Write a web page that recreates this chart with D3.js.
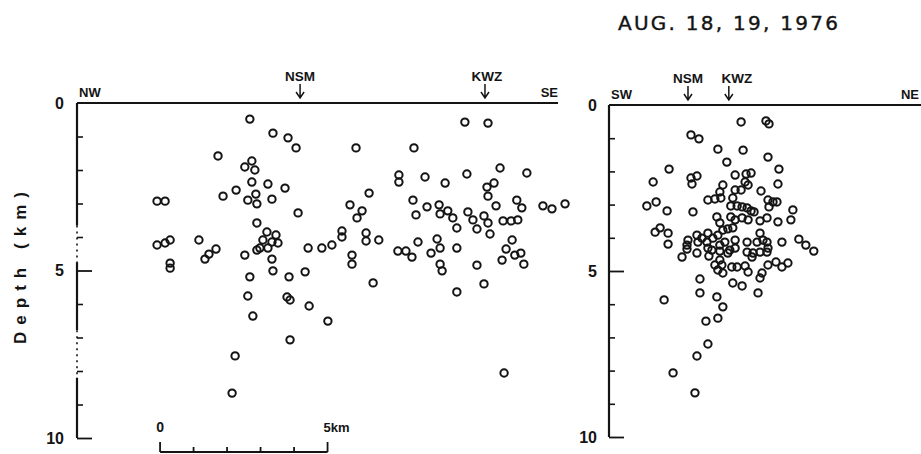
<!DOCTYPE html>
<html><head><meta charset="utf-8">
<script src="https://cdn.jsdelivr.net/npm/d3@7"></script>
<style>html,body{margin:0;padding:0;background:#fff;} svg{display:block;}</style>
</head><body><svg id="c" width="921" height="454"></svg>
<script>
// ---------------- data ----------------
const title = "AUG. 18, 19, 1976";
const yLabel = "Depth (km)";
const depthTickLabels = [0, 5, 10];
const minorDepthTicks = [1, 2, 3, 4, 6, 7, 8, 9];
const leftEnds = ["NW", "SE"];
const rightEnds = ["SW", "NE"];
const leftStations = [{name: "NSM", km: 6.66}, {name: "KWZ", km: 12.18}];
const rightStations = [{name: "NSM", km: 2.38}, {name: "KWZ", km: 3.61}];
const scaleBarStartKm = 2.48;
const scaleBarKm = [0, 1, 2, 3, 4, 5];
const scaleBarLabels = ["0", "5km"];

// [horizontal distance (km), depth (km)]
const leftSection = [
[5.16,0.48],[5.85,0.90],[6.30,1.04],[6.54,1.34],[4.21,1.58],[5.22,1.73],[5.01,1.91],[5.31,2.00],[5.22,2.36],[5.70,2.42],
[6.21,2.54],[4.36,2.78],[4.75,2.60],[5.34,2.72],[5.10,2.90],[5.37,3.01],[5.82,2.87],[2.39,2.93],[2.63,2.93],[6.60,3.28],
[5.37,3.58],[5.67,3.85],[5.94,3.94],[5.55,4.09],[5.82,4.15],[6.00,4.18],[5.46,4.33],[5.70,4.33],[5.37,4.39],[2.39,4.24],
[2.63,4.18],[2.78,4.09],[3.64,4.09],[4.15,4.36],[3.94,4.51],[3.82,4.66],[5.01,4.54],[5.82,4.66],[2.78,4.78],[2.78,4.93],
[6.90,4.33],[7.31,4.33],[7.61,4.24],[5.85,5.01],[6.81,5.04],[5.16,5.19],[6.33,5.19],[5.10,5.76],[6.27,5.79],[6.36,5.88],
[6.93,6.06],[5.25,6.36],[7.49,6.51],[6.36,7.07],[4.72,7.55],[4.63,8.66],[8.21,4.54],[8.21,4.81],[8.84,5.37],[8.33,1.34],
[10.06,1.34],[11.58,0.57],[12.27,0.60],[12.63,1.94],[13.43,2.09],[9.61,2.15],[9.61,2.36],[10.39,2.21],[10.99,2.39],[11.64,2.12],
[12.24,2.51],[12.45,2.39],[12.27,2.78],[12.51,3.07],[13.13,2.90],[13.28,3.13],[13.91,3.07],[14.18,3.16],[14.57,3.01],[8.72,2.69],
[10.03,2.90],[10.45,3.10],[10.81,3.04],[10.84,3.31],[11.07,3.22],[8.15,3.04],[8.51,3.22],[8.36,3.43],[10.12,3.34],[11.22,3.43],
[11.34,3.73],[11.67,3.25],[11.82,3.49],[12.15,3.37],[12.27,3.58],[11.94,3.76],[12.33,3.91],[12.72,3.52],[12.96,3.52],[13.16,3.49],
[7.91,3.82],[7.91,4.00],[8.63,3.88],[8.63,4.12],[9.01,4.09],[10.18,4.15],[10.75,4.06],[10.84,4.33],[11.34,4.33],[9.58,4.42],
[9.82,4.42],[10.00,4.60],[10.57,4.48],[10.84,4.81],[10.90,5.01],[11.94,4.84],[12.69,4.69],[12.99,4.09],[12.81,4.36],[13.07,4.54],
[13.25,4.48],[13.34,4.81],[11.34,5.64],[12.15,5.40],[12.75,8.06]
];

const rightSection = [
[3.98,0.51],[4.73,0.48],[4.82,0.57],[2.47,0.90],[2.71,1.02],[3.28,1.33],[4.04,1.36],[4.79,1.57],[3.55,1.72],[1.81,1.93],
[5.12,1.93],[2.47,2.20],[2.65,2.14],[2.50,2.38],[1.33,2.32],[3.80,2.11],[4.13,2.08],[4.28,2.05],[4.10,2.32],[4.19,2.41],
[3.43,2.41],[5.09,2.38],[1.14,3.04],[1.42,2.92],[1.75,3.19],[2.53,3.22],[2.98,2.86],[3.19,2.83],[3.37,2.80],[3.34,2.62],
[3.80,2.56],[3.98,2.56],[3.73,2.80],[4.58,2.59],[4.79,2.86],[4.94,2.92],[5.06,2.92],[4.82,3.07],[3.67,3.04],[3.86,3.04],
[4.01,3.07],[4.16,3.10],[4.28,3.19],[4.37,3.22],[3.25,3.37],[3.34,3.55],[3.67,3.37],[3.80,3.46],[4.01,3.40],[4.19,3.46],
[4.55,3.49],[4.76,3.40],[5.09,3.52],[5.54,3.16],[5.48,3.46],[1.54,3.70],[1.39,3.83],[1.78,3.86],[1.78,4.19],[2.65,3.92],
[2.38,4.07],[2.35,4.22],[2.35,4.34],[2.20,4.58],[2.98,3.86],[2.80,4.01],[2.95,4.13],[3.13,4.01],[3.28,3.92],[3.43,3.77],
[3.58,3.73],[3.73,3.70],[2.68,4.13],[2.98,4.31],[3.10,4.37],[3.34,4.22],[3.49,4.13],[2.65,4.46],[3.01,4.55],[3.34,4.40],
[3.64,4.37],[3.80,4.31],[3.58,4.46],[3.80,4.07],[4.16,4.13],[4.46,4.13],[4.55,3.86],[4.64,4.07],[4.76,4.13],[4.79,4.31],
[4.76,4.43],[5.21,4.13],[4.16,4.43],[4.31,4.58],[4.34,4.46],[5.72,4.04],[5.93,4.22],[6.17,4.40],[3.34,4.67],[3.40,4.82],
[3.19,4.82],[3.28,4.97],[3.43,5.06],[3.70,4.88],[3.86,4.88],[4.10,4.85],[4.19,5.03],[4.79,4.82],[5.03,4.73],[5.21,4.88],
[5.39,4.76],[4.61,5.06],[4.55,5.21],[2.74,5.24],[3.73,5.36],[4.01,5.45],[2.74,5.66],[3.25,5.78],[4.49,5.66],[1.66,5.87],
[3.43,6.08],[3.28,6.42],[2.92,6.51],[2.98,7.20],[2.65,7.56],[1.93,8.07],[2.59,8.67],[4.55,4.43]
];

// ---------------- drawing ----------------
const svg = d3.select("#c");
const INK = "#141414";
const FONT = "'Liberation Sans', Arial, Helvetica, sans-serif";
const TFONT = "'DejaVu Sans', Verdana, sans-serif";

const L = {x: d3.scaleLinear().domain([0, 14.36]).range([77, 558]),
           y: d3.scaleLinear().domain([0, 10]).range([103, 438])};
const R = {x: d3.scaleLinear().domain([0, 9.4]).range([609, 921]),
           y: d3.scaleLinear().domain([0, 10]).range([105, 437])};

// title
svg.append("text").attr("x", 618).attr("y", 30)
  .attr("font-family", TFONT).attr("font-size", 20).attr("font-weight", "normal")
  .attr("stroke", INK).attr("stroke-width", 0.4)
  .attr("fill", INK).attr("textLength", 220).attr("lengthAdjust", "spacing")
  .text(title);

// y label
svg.append("text").attr("transform", "translate(26,268) rotate(-90)")
  .attr("text-anchor", "middle").attr("font-family", FONT).attr("font-size", 17)
  .attr("font-weight", "bold").attr("fill", INK)
  .attr("textLength", 152).attr("lengthAdjust", "spacing").text(yLabel);

function panel(P, data, ends, stations, leftAxisStyle, labelPad, endRightX) {
  const g = svg.append("g");
  const x0 = P.x.range()[0];
  // top line
  g.append("line").attr("x1", x0).attr("x2", endRightX).attr("y1", P.y(0)).attr("y2", P.y(0))
    .attr("stroke", INK).attr("stroke-width", 2.2);
  // vertical axis (segments)
  leftAxisStyle.forEach(s => {
    g.append("line").attr("x1", x0).attr("x2", x0).attr("y1", P.y(s[0])).attr("y2", P.y(s[1]))
      .attr("stroke", INK).attr("stroke-width", s[2] ? 1.6 : 2.2)
      .attr("stroke-dasharray", s[2] ? "2,4" : null);
  });
  // minor ticks
  g.append("g").attr("transform", `translate(${x0},0)`)
    .call(d3.axisRight(P.y).tickValues(minorDepthTicks).tickSize(6).tickFormat(""))
    .call(a => { a.select(".domain").remove(); a.selectAll("line").attr("stroke", INK).attr("stroke-width", 1.6); });
  // major ticks
  g.append("g").attr("transform", `translate(${x0},0)`)
    .call(d3.axisRight(P.y).tickValues([5, 10]).tickSize(15).tickFormat(""))
    .call(a => { a.select(".domain").remove(); a.selectAll("line").attr("stroke", INK).attr("stroke-width", 1.8); });
  // tick labels
  g.append("g").attr("transform", `translate(${x0},0)`)
    .call(d3.axisLeft(P.y).tickValues(depthTickLabels).tickSize(0).tickPadding(labelPad).tickFormat(d3.format("d")))
    .call(a => { a.select(".domain").remove();
      a.selectAll("text").attr("font-family", FONT).attr("font-size", 16).attr("font-weight", "bold").attr("fill", INK); });
  // direction labels
  g.append("text").attr("x", x0 + 2).attr("y", P.y(0) - 6).attr("font-family", FONT)
    .attr("font-size", 13).attr("font-weight", "bold").attr("fill", INK).text(ends[0]);
  g.append("text").attr("x", ends[2]).attr("y", P.y(0) - 6).attr("text-anchor", "end").attr("font-family", FONT)
    .attr("font-size", 13).attr("font-weight", "bold").attr("fill", INK).text(ends[1]);
  // stations
  stations.forEach(s => {
    const sx = P.x(s.km);
    g.append("text").attr("x", sx + (s.dx || 0)).attr("y", P.y(0) - 22).attr("text-anchor", "middle")
      .attr("font-family", FONT).attr("font-size", 13.5).attr("font-weight", "bold").attr("fill", INK).text(s.name);
    const top = P.y(0) - 19, bot = P.y(0) - 5;
    g.append("path").attr("d", `M${sx},${top}L${sx},${bot}M${sx-4},${bot-6}L${sx},${bot}L${sx+4},${bot-6}`)
      .attr("fill", "none").attr("stroke", INK).attr("stroke-width", 1.5);
  });
  // events
  g.append("g").selectAll("circle").data(data).join("circle")
    .attr("cx", d => P.x(d[0])).attr("cy", d => P.y(d[1])).attr("r", 3.7)
    .attr("fill", "none").attr("stroke", INK).attr("stroke-width", 2);
}

panel(L, leftSection, [leftEnds[0], leftEnds[1], 558],
  leftStations.map((s, i) => Object.assign({}, s, {dx: i === 1 ? 2 : 0})),
  [[0, 3.66, false], [3.66, 4.75, true], [4.75, 6.78, false], [6.78, 8.2, true], [8.2, 10, false]], 13, 558);
panel(R, rightSection, [rightEnds[0], rightEnds[1], 919],
  rightStations.map((s, i) => Object.assign({}, s, {dx: i === 1 ? 8 : 0})),
  [[0, 10, false]], 12, 921);

// scale bar
const sb = svg.append("g");
const sbx = km => L.x(scaleBarStartKm + km);
const sby = 452;
sb.append("line").attr("x1", sbx(0)).attr("x2", sbx(5)).attr("y1", sby).attr("y2", sby)
  .attr("stroke", INK).attr("stroke-width", 2);
sb.selectAll("line.t").data(scaleBarKm).join("line").attr("class", "t")
  .attr("x1", d => sbx(d)).attr("x2", d => sbx(d))
  .attr("y1", d => (d === 0 || d === 5) ? sby - 10 : sby - 5).attr("y2", sby)
  .attr("stroke", INK).attr("stroke-width", 1.8);
sb.append("text").attr("x", sbx(0)).attr("y", 432).attr("text-anchor", "middle")
  .attr("font-family", FONT).attr("font-size", 14).attr("font-weight", "bold").attr("fill", INK).text(scaleBarLabels[0]);
sb.append("text").attr("x", sbx(5) - 4).attr("y", 432)
  .attr("font-family", FONT).attr("font-size", 13).attr("font-weight", "bold").attr("fill", INK).text(scaleBarLabels[1]);
</script></body></html>
